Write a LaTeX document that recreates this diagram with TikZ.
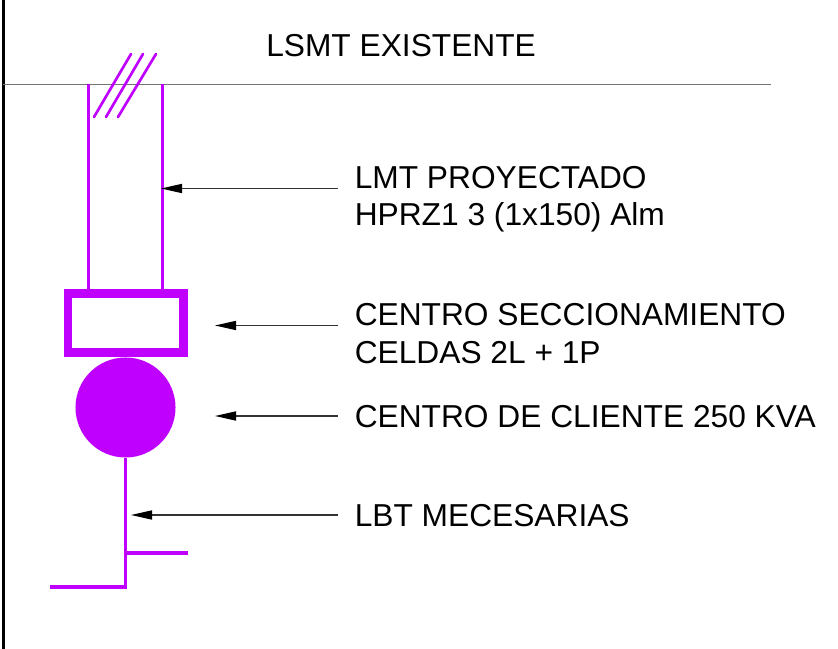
\documentclass[tikz,border=0pt]{standalone}
\usepackage{fontspec}
\setmainfont{Liberation Sans}
\usetikzlibrary{arrows.meta}
\definecolor{linea}{HTML}{C000FF}
\tikzset{
  etiqueta/.style={anchor=west, inner sep=0pt, align=left, text=black,
    font=\fontsize{22.55pt}{26.6pt}\selectfont},
  red/.style={draw=linea, line width=2.2pt},
  flecha/.style={draw=black!80, line width=0.9pt, {Triangle[length=15pt,width=6.5pt,fill=black,color=black]}-}
}
\begin{document}
\begin{tikzpicture}[x=0.025cm, y=-0.025cm]
\useasboundingbox (0,0) rectangle (838,649);
\draw[line width=2pt] (3.3,0) -- (3.3,649);
\coordinate (RedIzq) at (3,84.5);
\coordinate (RedDer) at (771,84.5);
\draw[draw=black!55, line width=1.4pt] (RedIzq) -- (RedDer);
\node[etiqueta] (LSMT) at (266,46) {LSMT EXISTENTE};
\node[etiqueta] (LMT) at (354.5,199.5) {LMT PROYECTADO\\HPRZ1 3 (1x150) Alm};
\node[etiqueta] (CS) at (354.5,333.5) {CENTRO SECCIONAMIENTO\\CELDAS 2L + 1P};
\node[etiqueta] (CC) at (354.5,417) {CENTRO DE CLIENTE 250 KVA};
\node[etiqueta] (LBT) at (354.5,516) {LBT MECESARIAS};
\node[draw=linea, line width=6.1pt, minimum width=2.887cm, minimum height=1.487cm, inner sep=0pt] (Celdas) at (125.75,323) {};
\node[circle, fill=linea, minimum size=2.5cm, inner sep=0pt] (Cliente) at (125.5,407.5) {};
% linea de media tension
\coordinate (A1) at (88.5,84);
\coordinate (A2) at (162.5,84);
\draw[red] (A1) -- (A1 |- Celdas.north);
\draw[red] (A2) -- (A2 |- Celdas.north);
\foreach \i/\xa/\xb in {1/94/131, 2/106/143, 3/118/156} {
  \coordinate (S\i a) at (\xa,117);
  \coordinate (S\i b) at (\xb,54);
  \draw[red, line width=1.9pt, line cap=round] (S\i a) -- (S\i b);
}
% linea de baja tension
\coordinate (B1) at (125.5,587);
\coordinate (B2) at (50,587);
\coordinate (B3) at (125.5,553);
\coordinate (B4) at (188,553);
\draw[red, line join=miter] (Cliente.south) -- (B1) -- (B2);
\draw[red] (B3) -- (B4);
% flechas
\coordinate (F1a) at (338,188.5); \coordinate (F1b) at (161,188.5);
\coordinate (F2a) at (338,325.5); \coordinate (F2b) at (215,325.5);
\coordinate (F3a) at (338,416); \coordinate (F3b) at (215,416);
\coordinate (F4a) at (338,515); \coordinate (F4b) at (131,515);
\draw[flecha] (F1b) -- (F1a);
\draw[flecha] (F2b) -- (F2a);
\draw[flecha] (F3b) -- (F3a);
\draw[flecha] (F4b) -- (F4a);
\end{tikzpicture}
\end{document}
